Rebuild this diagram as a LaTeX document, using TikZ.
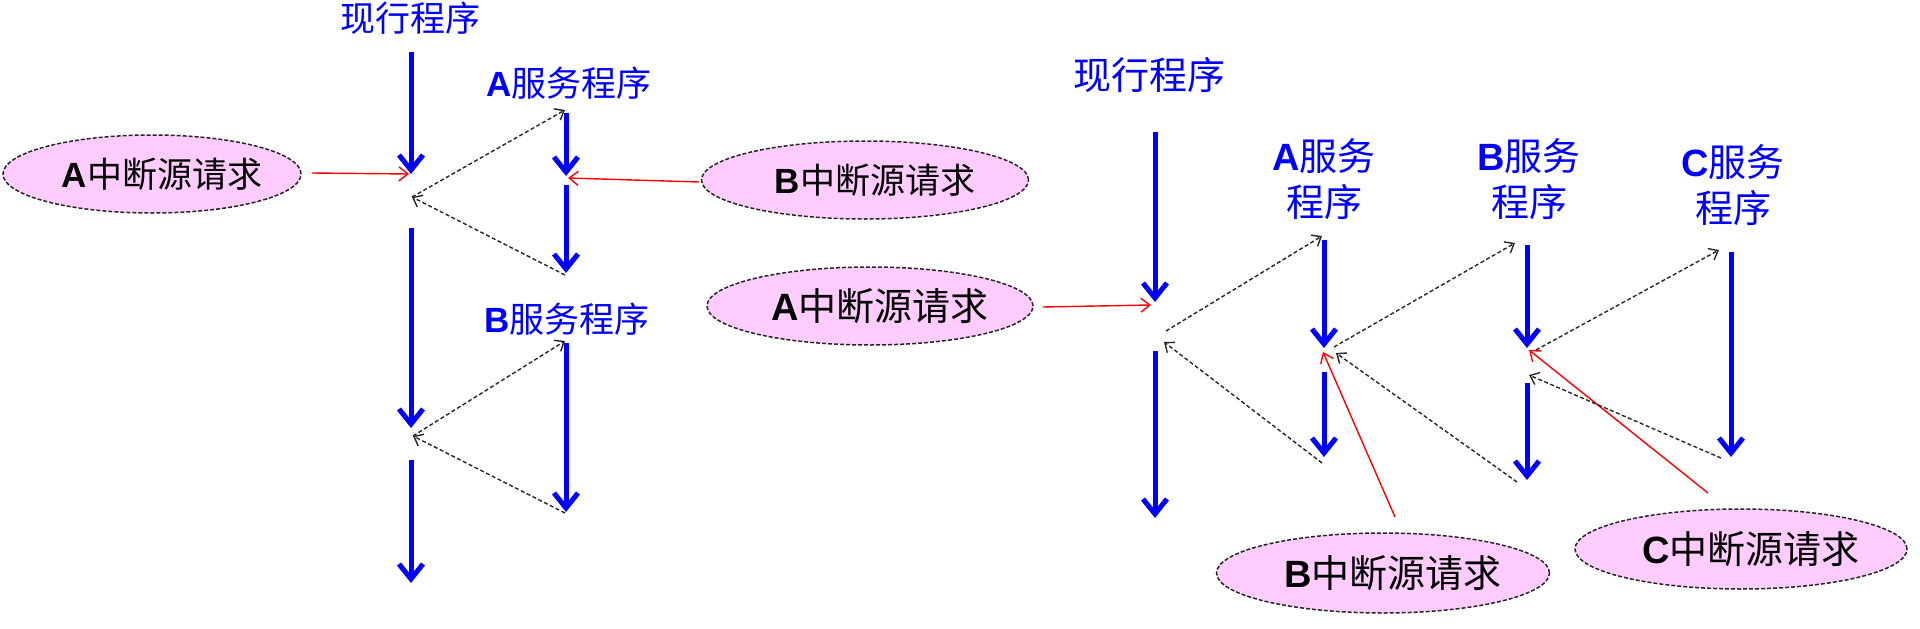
\documentclass[tikz,border=0pt]{standalone}
\usepackage{fontspec}
\setmainfont{Liberation Sans}
\newfontfamily\cjkf{Noto Sans CJK SC}
\usetikzlibrary{arrows.meta,shapes.geometric}
\definecolor{pinkfill}{RGB}{255,204,255}
\definecolor{progblue}{RGB}{0,0,255}
\newcommand\srctext[1]{\makebox[0pt][c]{\hspace*{20pt}\textbf{#1}{\cjkf 中断源请求}}}
\begin{document}
\begin{tikzpicture}[x=1pt,y=-1pt,
  prog/.style={progblue, line width=5pt, -{Straight Barb[length=15pt,width=24pt]}},
  ret/.style={black!85, line width=1.4pt, dash pattern=on 4pt off 2.5pt, -{Straight Barb[length=8pt,width=13pt]}},
  req/.style={red, line width=1.4pt, -{Straight Barb[length=9pt,width=14pt]}},
  src/.style={ellipse, draw=black!85, line width=1.5pt, dash pattern=on 4pt off 2pt, fill=pinkfill, inner sep=0pt, text=black},
  lbl/.style={text=progblue, align=center, inner sep=0pt},
  fsl/.style={font=\fontsize{35}{42}\selectfont},
  fsr/.style={font=\fontsize{38}{46}\selectfont}
]
\useasboundingbox (0,0) rectangle (1920,629);

% ---------------- left diagram ----------------
\node[lbl,fsl] (cur1) at (410,18) {\cjkf 现行程序};
\coordinate (m1s) at (411,52);  \coordinate (m1e) at (411,174);
\coordinate (g1)  at (412,197);
\coordinate (m2s) at (411,228); \coordinate (m2e) at (411,428);
\coordinate (g2)  at (413,436);
\coordinate (m3s) at (411,460); \coordinate (m3e) at (411,583);
\draw[prog] (m1s) -- (m1e);
\draw[prog] (m2s) -- (m2e);
\draw[prog] (m3s) -- (m3e);

\node[lbl,fsl] (asvc1) at (569,83) {\textbf{A}{\cjkf 服务程序}};
\coordinate (a1s) at (566,113); \coordinate (a1e) at (566,176);
\coordinate (a2s) at (566,185); \coordinate (a2e) at (566,273);
\coordinate (atop1) at (565,110); \coordinate (aend1) at (565,275);
\draw[prog] (a1s) -- (a1e);
\draw[prog] (a2s) -- (a2e);

\node[lbl,fsl] (bsvc1) at (567,319) {\textbf{B}{\cjkf 服务程序}};
\coordinate (b1s) at (566,343); \coordinate (b1e) at (566,512);
\coordinate (btop1) at (565,341); \coordinate (bend1) at (565,513);
\draw[prog] (b1s) -- (b1e);

\node[src,fsl,minimum width=298pt,minimum height=78pt] (srcA1) at (152,174) {\srctext{A}};
\node[src,fsl,minimum width=327pt,minimum height=78pt] (srcB1) at (865,180) {\srctext{B}};
\coordinate (hitA1) at (409,174);
\coordinate (hitB1) at (568,178);
\draw[req] ([xshift=10pt,yshift=1pt]srcA1.east) -- (hitA1);
\draw[req] ([xshift=-2pt,yshift=-2pt]srcB1.west) -- (hitB1);

\draw[ret] (g1) -- (atop1);
\draw[ret] (aend1) -- (g1);
\draw[ret] (g2) -- (btop1);
\draw[ret] (bend1) -- (g2);

% ---------------- right diagram ----------------
\node[lbl,fsr] (cur2) at (1149,75) {\cjkf 现行程序};
\coordinate (r1s) at (1155,132); \coordinate (r1e) at (1155,302);
\coordinate (r2s) at (1155,351); \coordinate (r2e) at (1155,518);
\coordinate (rgu) at (1166,331); \coordinate (rgd) at (1164,342);
\draw[prog] (r1s) -- (r1e);
\draw[prog] (r2s) -- (r2e);

\node[lbl,fsr] (asvc2) at (1324,179) {\textbf{A}{\cjkf 服务}\\{\cjkf 程序}};
\coordinate (ra1s) at (1324,240); \coordinate (ra1e) at (1324,348);
\coordinate (ra2s) at (1324,372); \coordinate (ra2e) at (1324,457);
\coordinate (ratop) at (1322,236); \coordinate (raend) at (1322,463);
\coordinate (rahit) at (1323,352);
\coordinate (raup) at (1334,347); \coordinate (raret) at (1336,353);
\draw[prog] (ra1s) -- (ra1e);
\draw[prog] (ra2s) -- (ra2e);

\node[lbl,fsr] (bsvc2) at (1529,179) {\textbf{B}{\cjkf 服务}\\{\cjkf 程序}};
\coordinate (rb1s) at (1527,245); \coordinate (rb1e) at (1527,348);
\coordinate (rb2s) at (1527,383); \coordinate (rb2e) at (1527,480);
\coordinate (rbtop) at (1515,243); \coordinate (rbend) at (1517,482);
\coordinate (rbhit) at (1529,350);
\coordinate (rbup) at (1536,350); \coordinate (rbret) at (1529,375);
\draw[prog] (rb1s) -- (rb1e);
\draw[prog] (rb2s) -- (rb2e);

\node[lbl,fsr] (csvc2) at (1733,185) {\textbf{C}{\cjkf 服务}\\{\cjkf 程序}};
\coordinate (rc1s) at (1731,252); \coordinate (rc1e) at (1731,457);
\coordinate (rctop) at (1719,250); \coordinate (rcend) at (1721,458);
\draw[prog] (rc1s) -- (rc1e);

\node[src,fsr,minimum width=326pt,minimum height=78pt] (srcA2) at (870,306) {\srctext{A}};
\node[src,fsr,minimum width=333pt,minimum height=80pt] (srcB2) at (1383,573) {\srctext{B}};
\node[src,fsr,minimum width=332pt,minimum height=80pt] (srcC2) at (1741,549) {\srctext{C}};

\coordinate (hitA2) at (1151,305);
\coordinate (reqB2) at (1395,517);
\coordinate (reqC2) at (1708,493);
\draw[req] ([xshift=9pt,yshift=-1pt]srcA2.east) -- (hitA2);
\draw[req] (reqB2) -- (rahit);
\draw[req] (reqC2) -- (rbhit);

\draw[ret] (rgu) -- (ratop);
\draw[ret] (raend) -- (rgd);
\draw[ret] (raup) -- (rbtop);
\draw[ret] (rbend) -- (raret);
\draw[ret] (rbup) -- (rctop);
\draw[ret] (rcend) -- (rbret);
\end{tikzpicture}
\end{document}
